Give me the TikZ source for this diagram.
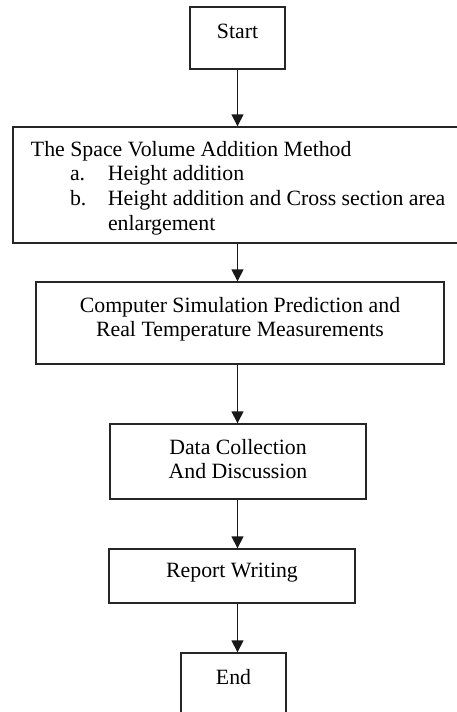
\documentclass[tikz,border=0pt]{standalone}
\usepackage{fontspec}
\setmainfont{Liberation Serif}
\usetikzlibrary{arrows.meta}
\begin{document}
\begin{tikzpicture}[x=1pt,y=-1pt,
  box/.style={draw=black!85, line width=1.4pt, inner sep=0pt},
  flow/.style={draw=black!90, line width=1.5pt, -{Triangle[width=12pt,length=12pt]}},
  font=\fontsize{21.8}{24.7}\selectfont]
\useasboundingbox (0,0) rectangle (456,712);

\node[box, minimum width=95pt, minimum height=62pt, text height=14pt, text depth=14pt] (start) at (237.5,38) {Start};

\node[box, minimum width=447pt, minimum height=116pt, text width=429pt, inner xsep=9pt, align=flush left] (method) at (236.5,185)
  {\hspace*{9pt}\rule{0pt}{21pt}The Space Volume Addition Method\\
   \hspace*{48pt}\makebox[38pt][l]{a.}Height addition\\
   \hspace*{48pt}\makebox[38pt][l]{b.}Height addition and Cross section area\\
   \hspace*{86pt}enlargement};

\node[box, minimum width=408pt, minimum height=82pt, align=center] (sim) at (240,323)
  {Computer Simulation Prediction and\\Real Temperature Measurements\rule[-12pt]{0pt}{12pt}};

\node[box, minimum width=256pt, minimum height=75pt, align=center] (data) at (238,461.5)
  {Data Collection\\And Discussion\rule[-5.3pt]{0pt}{5.3pt}};

\node[box, minimum width=246pt, minimum height=54pt, text height=15pt, text depth=13pt] (report) at (232,576) {Report Writing};

\node[box, minimum width=105pt, minimum height=62pt, text height=14pt, text depth=14pt] (end) at (233.5,684) {End};

\draw[flow] (start.south) -- (method.north -| start.south);
\draw[flow] (method.south -| start.south) -- (sim.north -| start.south);
\draw[flow] (sim.south -| start.south) -- (data.north -| start.south);
\draw[flow] (data.south -| start.south) -- (report.north -| start.south);
\draw[flow] (report.south -| start.south) -- (end.north -| start.south);
\end{tikzpicture}
\end{document}
